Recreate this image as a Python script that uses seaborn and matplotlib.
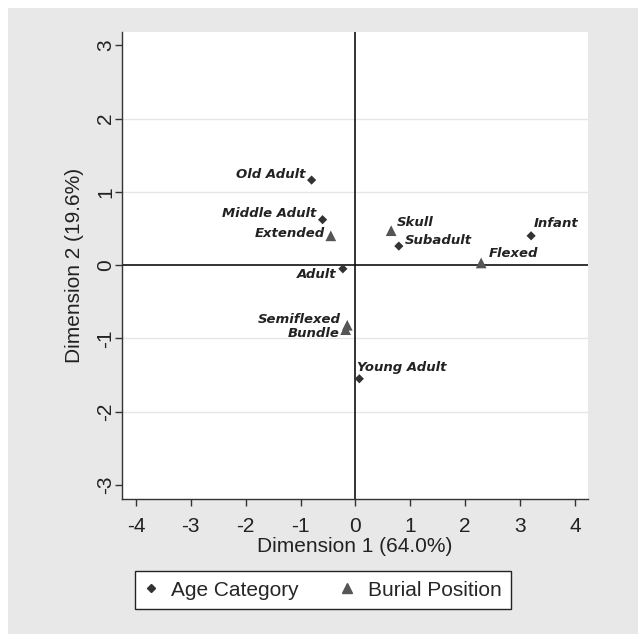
import numpy as np
import pandas as pd
import matplotlib
matplotlib.use('Agg')
import matplotlib.pyplot as plt
from matplotlib.lines import Line2D
from matplotlib.patches import Rectangle
import seaborn as sns

# data
age_labels = ['Old Adult', 'Middle Adult', 'Adult', 'Subadult', 'Infant', 'Young Adult']
age_dim1 = [-0.80, -0.60, -0.23, 0.79, 3.20, 0.07]
age_dim2 = [1.16, 0.62, -0.05, 0.26, 0.40, -1.55]

burial_labels = ['Extended', 'Skull', 'Flexed', 'Semiflexed', 'Bundle']
burial_dim1 = [-0.45, 0.65, 2.29, -0.15, -0.18]
burial_dim2 = [0.40, 0.47, 0.03, -0.82, -0.88]

x_ticks = [-4, -3, -2, -1, 0, 1, 2, 3, 4]
y_ticks = [-3, -2, -1, 0, 1, 2, 3]

df = pd.DataFrame({
    'label': age_labels + burial_labels,
    'dim1': age_dim1 + burial_dim1,
    'dim2': age_dim2 + burial_dim2,
    'group': ['Age Category'] * len(age_labels) + ['Burial Position'] * len(burial_labels),
})

# label placement (pixel offsets, horizontal alignment)
label_pos = {
    'Old Adult': (-6, 6, 'right'),
    'Middle Adult': (-6, 6, 'right'),
    'Extended': (-6, 2, 'right'),
    'Adult': (-6, -6, 'right'),
    'Semiflexed': (-6, 6, 'right'),
    'Bundle': (-6, -4, 'right'),
    'Skull': (6, 8, 'left'),
    'Subadult': (6, 6, 'left'),
    'Infant': (3, 12, 'left'),
    'Flexed': (8, 9, 'left'),
    'Young Adult': (-2, 11, 'left'),
}

sns.set_style('white')
plt.rcParams['font.family'] = ['Liberation Sans', 'DejaVu Sans']

fig = plt.figure(figsize=(6.38, 6.34), dpi=100, facecolor='white')
fig.patches.append(Rectangle((8 / 638, 0), 1 - 8 / 638, 1 - 8 / 634, transform=fig.transFigure,
                             facecolor='#e8e8e8', edgecolor='none', zorder=-10))
ax = fig.add_axes([122 / 638, 1 - 499 / 634, (588 - 122) / 638, (499 - 32) / 634])
ax.set_facecolor('white')

for yv in [-2, -1, 1, 2]:
    ax.axhline(yv, color='#e6e6e6', lw=1, zorder=0)
ax.axhline(0, color='#111111', lw=1.2, zorder=1)
ax.axvline(0, color='#111111', lw=1.2, zorder=1)

sns.scatterplot(data=df, x='dim1', y='dim2', hue='group', style='group',
                markers={'Age Category': 'D', 'Burial Position': '^'},
                palette={'Age Category': '#333333', 'Burial Position': '#555555'},
                size='group', sizes={'Age Category': 22, 'Burial Position': 60},
                edgecolor='none', legend=False, ax=ax, zorder=3)

for _, row in df.iterrows():
    dx, dy, ha = label_pos[row['label']]
    ax.annotate(row['label'], (row['dim1'], row['dim2']), xytext=(dx, dy),
                textcoords='offset pixels', ha=ha, va='center',
                fontsize=9.5, fontstyle='italic', fontweight='bold',
                family='DejaVu Sans', color='#222222', zorder=4)

ax.set_xlim(-4.255, 4.237)
ax.set_ylim(-3.19, 3.18)
ax.set_xticks(x_ticks)
ax.set_yticks(y_ticks)
ax.set_xticklabels([str(t) for t in x_ticks])
ax.set_yticklabels([str(t) for t in y_ticks], rotation=90, va='center')
ax.tick_params(axis='both', direction='out', length=5, width=1, color='#333333',
               labelsize=15, labelcolor='#222222', left=True, bottom=True)
ax.tick_params(axis='x', pad=8)
ax.tick_params(axis='y', pad=0)
for s in ['top', 'right']:
    ax.spines[s].set_visible(False)
for s in ['left', 'bottom']:
    ax.spines[s].set_color('#333333')
    ax.spines[s].set_linewidth(1)
ax.set_xlabel('Dimension 1 (64.0%)', fontsize=15, color='#222222', labelpad=1)
ax.set_ylabel('Dimension 2 (19.6%)', fontsize=15, color='#222222', labelpad=9)

handles = [
    Line2D([], [], marker='D', color='#333333', ls='none', markersize=4, label='Age Category'),
    Line2D([], [], marker='^', color='#555555', ls='none', markersize=7, label='Burial Position'),
]
leg = fig.legend(handles=handles, loc='center', bbox_to_anchor=(323 / 638, 1 - 590 / 634),
                 ncol=2, frameon=True, fancybox=False, fontsize=15, handletextpad=0.7,
                 columnspacing=2.0, borderpad=0.45, handlelength=0.6, framealpha=1)
leg.get_frame().set_edgecolor('#222222')
leg.get_frame().set_linewidth(1)
leg.get_frame().set_facecolor('white')

fig.savefig('out.png', dpi=100, facecolor=fig.get_facecolor())
